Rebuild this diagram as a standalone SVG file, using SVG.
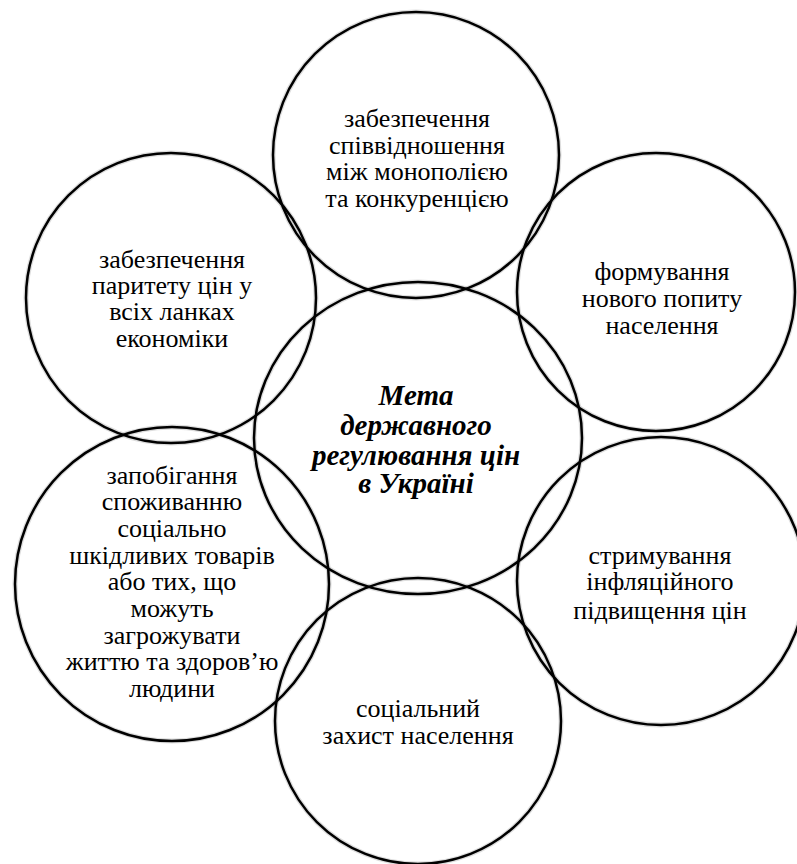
<svg xmlns="http://www.w3.org/2000/svg" width="797" height="864" viewBox="0 0 797 864">
<style>
.c{fill:none;stroke:#000;stroke-width:2.5}
.h{fill:none;stroke:#bbb;stroke-width:5;opacity:0.5}
.t{font-family:"Liberation Serif","Times New Roman",serif;font-size:26px;fill:#000;text-anchor:middle}
.m{font-family:"Liberation Serif","Times New Roman",serif;font-size:29px;font-weight:bold;font-style:italic;fill:#000;text-anchor:middle}
</style>
<rect width="797" height="864" fill="#fff"/>
<g id="halo">
<circle class="h" cx="416" cy="155" r="143"/>
<circle class="h" cx="171" cy="298" r="145"/>
<circle class="h" cx="656" cy="292" r="139"/>
<ellipse class="h" cx="418" cy="438" rx="164" ry="156"/>
<circle class="h" cx="172" cy="584" r="157"/>
<circle class="h" cx="661" cy="581" r="144"/>
<circle class="h" cx="418" cy="721" r="143"/>
</g>
<g id="center">
<ellipse class="c" cx="418" cy="438" rx="164" ry="156"/>
<text class="m"><tspan x="416" y="405">Мета</tspan><tspan x="416" y="435">державного</tspan><tspan x="416" y="465">регулювання цін</tspan><tspan x="416" y="493">в Україні</tspan></text>
</g>
<g id="top">
<circle class="c" cx="416" cy="155" r="143"/>
<text class="t"><tspan x="417" y="127">забезпечення</tspan><tspan x="417" y="154">співвідношення</tspan><tspan x="417" y="180">між монополією</tspan><tspan x="417" y="207">та конкуренцією</tspan></text>
</g>
<g id="top-left">
<circle class="c" cx="171" cy="298" r="145"/>
<text class="t"><tspan x="172" y="268">забезпечення</tspan><tspan x="172" y="294">паритету цін у</tspan><tspan x="172" y="320">всіх ланках</tspan><tspan x="172" y="347">економіки</tspan></text>
</g>
<g id="top-right">
<circle class="c" cx="656" cy="292" r="139"/>
<text class="t"><tspan x="662" y="280">формування</tspan><tspan x="662" y="307">нового попиту</tspan><tspan x="662" y="334">населення</tspan></text>
</g>
<g id="bottom-left">
<circle class="c" cx="172" cy="584" r="157"/>
<text class="t"><tspan x="172" y="484">запобігання</tspan><tspan x="172" y="510">споживанню</tspan><tspan x="172" y="537">соціально</tspan><tspan x="172" y="564">шкідливих товарів</tspan><tspan x="172" y="590">або тих, що</tspan><tspan x="172" y="617">можуть</tspan><tspan x="172" y="644">загрожувати</tspan><tspan x="172" y="670">життю та здоров’ю</tspan><tspan x="172" y="697">людини</tspan></text>
</g>
<g id="bottom-right">
<circle class="c" cx="661" cy="581" r="144"/>
<text class="t"><tspan x="660" y="564">стримування</tspan><tspan x="660" y="590">інфляційного</tspan><tspan x="660" y="619">підвищення цін</tspan></text>
</g>
<g id="bottom">
<circle class="c" cx="418" cy="721" r="143"/>
<text class="t"><tspan x="418" y="717">соціальний</tspan><tspan x="418" y="744">захист населення</tspan></text>
</g>
<g id="connectors"/>
</svg>
